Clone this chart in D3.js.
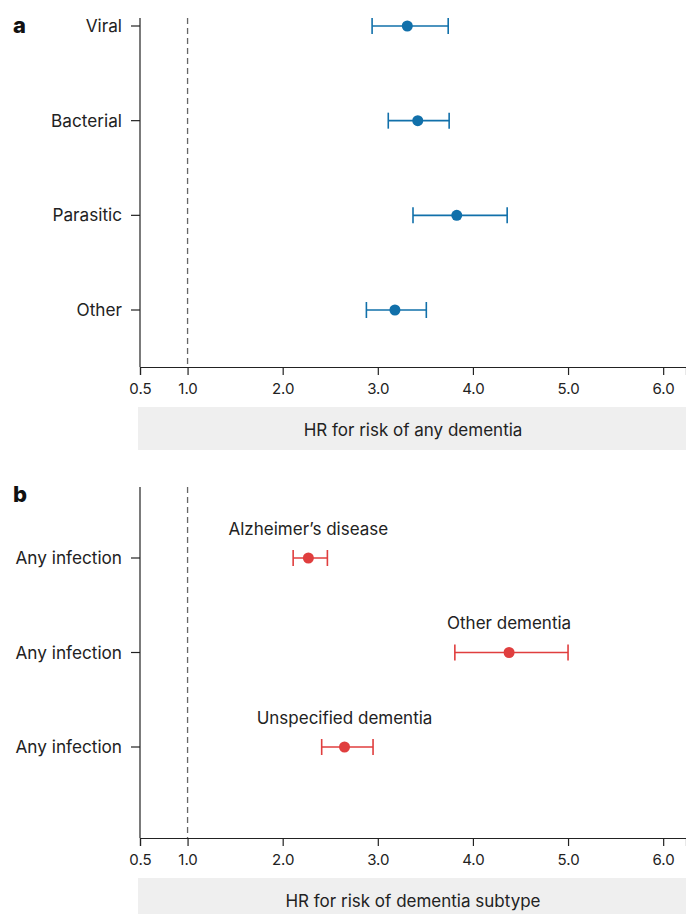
<!DOCTYPE html>
<html lang="en">
<head>
    <meta charset="UTF-8">
    <title>HR for dementia by infection</title>
    <script src="https://d3js.org/d3.v7.min.js"></script>
    <style>
        body { margin: 0; background: #fff; }
        svg { display: block; font-family: Inter, "Noto Sans", sans-serif; }
    </style>
</head>
<body>
    <svg width="686" height="914"></svg>
    <script>
        // Panel a: infection types
        const typesA = ["Viral", "Bacterial", "Parasitic", "Other"];
        const hrA    = [3.31, 3.42, 3.83, 3.18];
        const lowA   = [2.94, 3.11, 3.37, 2.88];
        const highA  = [3.74, 3.75, 4.36, 3.51];

        // Panel b: dementia subtypes
        const typesB  = ["Any infection", "Any infection", "Any infection"];
        const labelsB = ["Alzheimer\u2019s disease", "Other dementia", "Unspecified dementia"];
        const hrB     = [2.27, 4.38, 2.65];
        const lowB    = [2.11, 3.81, 2.41];
        const highB   = [2.47, 5.00, 2.95];

        const xTicks = [0.5, 1.0, 2.0, 3.0, 4.0, 5.0, 6.0];

        const svg = d3.select("svg");
        const x = d3.scaleLinear().domain([0.5, 6.24]).range([140, 686]);

        function panel(opt) {
            const g = svg.append("g");
            const rows = opt.cats.map((c, i) => ({ i, cat: c, hr: opt.hr[i], lo: opt.lo[i], hi: opt.hi[i], lab: opt.labels ? opt.labels[i] : null }));
            const y = d3.scalePoint().domain(d3.range(rows.length)).range(opt.rowRange);

            // letter
            g.append("text").attr("x", 13).attr("y", opt.top + 15)
                .attr("font-size", 22).attr("font-weight", 800).attr("fill", "#111")
                .text(opt.letter);

            // y axis line
            g.append("line").attr("x1", 140).attr("x2", 140)
                .attr("y1", opt.top).attr("y2", opt.bottom)
                .attr("stroke", "#222").attr("stroke-width", 1.2);

            // y ticks + labels
            rows.forEach(r => {
                g.append("line").attr("x1", 131).attr("x2", 140)
                    .attr("y1", y(r.i)).attr("y2", y(r.i))
                    .attr("stroke", "#222").attr("stroke-width", 1.2);
                g.append("text").attr("x", 122).attr("y", y(r.i))
                    .attr("dy", "0.35em").attr("text-anchor", "end")
                    .attr("font-size", 17.2).attr("fill", "#222").text(r.cat);
            });

            // reference line at HR = 1
            g.append("line").attr("x1", x(1)).attr("x2", x(1))
                .attr("y1", opt.top).attr("y2", opt.bottom)
                .attr("stroke", "#666").attr("stroke-width", 1.3)
                .attr("stroke-dasharray", "6,4");

            // x axis
            const ax = g.append("g").attr("transform", `translate(0,${opt.bottom})`)
                .call(d3.axisBottom(x).tickValues(xTicks).tickFormat(d3.format(".1f")).tickSize(8).tickPadding(8));
            ax.select(".domain").attr("stroke", "#222").attr("stroke-width", 1.2);
            ax.selectAll(".tick line").attr("stroke", "#222").attr("stroke-width", 1.2);
            ax.selectAll(".tick text").attr("font-size", 15).attr("fill", "#222")
                .attr("font-family", "Inter, 'Noto Sans', sans-serif");

            // title box
            g.append("rect").attr("x", 138).attr("y", opt.boxY)
                .attr("width", 548).attr("height", opt.boxH).attr("fill", "#efefef");
            g.append("text").attr("x", 413).attr("y", opt.boxY + 23)
                .attr("dy", "0.35em").attr("text-anchor", "middle")
                .attr("font-size", 17).attr("fill", "#222").text(opt.title);

            // error bars
            const cap = 8;
            rows.forEach(r => {
                const yy = y(r.i);
                g.append("line").attr("x1", x(r.lo)).attr("x2", x(r.hi))
                    .attr("y1", yy).attr("y2", yy)
                    .attr("stroke", opt.color).attr("stroke-width", 1.6);
                [r.lo, r.hi].forEach(v => {
                    g.append("line").attr("x1", x(v)).attr("x2", x(v))
                        .attr("y1", yy - cap).attr("y2", yy + cap)
                        .attr("stroke", opt.color).attr("stroke-width", 1.6);
                });
                g.append("circle").attr("cx", x(r.hr)).attr("cy", yy).attr("r", 5.5)
                    .attr("fill", opt.color);
                if (r.lab) {
                    g.append("text").attr("x", x(r.hr)).attr("y", yy - 29)
                        .attr("dy", "0.35em").attr("text-anchor", "middle")
                        .attr("font-size", 17).attr("fill", "#222").text(r.lab);
                }
            });
        }

        panel({
            letter: "a", cats: typesA, hr: hrA, lo: lowA, hi: highA,
            top: 18, bottom: 367, rowRange: [26, 310],
            boxY: 407, boxH: 43, title: "HR for risk of any dementia",
            color: "#1170aa"
        });

        panel({
            letter: "b", cats: typesB, labels: labelsB, hr: hrB, lo: lowB, hi: highB,
            top: 487, bottom: 838, rowRange: [558, 747],
            boxY: 878, boxH: 36, title: "HR for risk of dementia subtype",
            color: "#e03e3e"
        });
    </script>
</body>
</html>
